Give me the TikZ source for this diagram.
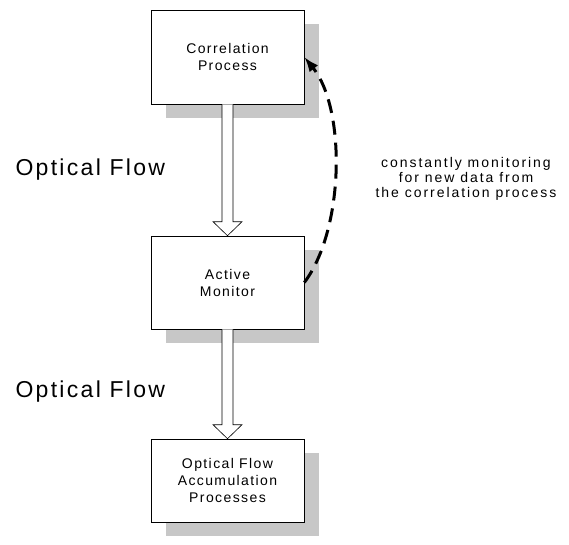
\documentclass[tikz,border=0pt]{standalone}
\usepackage{fontspec}
\setmainfont{Liberation Sans}
\newfontfamily\boxfont{Liberation Sans}[LetterSpace=10]
\newfontfamily\notefont{Liberation Sans}[LetterSpace=14]
\usetikzlibrary{calc, shadows, arrows.meta}

\tikzset{
	process/.style={draw, line width=0.6pt, fill=white, minimum width=153pt, align=center,
		font=\boxfont\fontsize{14}{17}\selectfont,
		drop shadow={shadow xshift=15pt, shadow yshift=-14pt, fill=black!22, opacity=1}},
	flow/.style={draw, line width=0.6pt, fill=white},
	flowlabel/.style={anchor=west, font=\boxfont\fontsize{23}{27}\selectfont},
	remark/.style={align=center, font=\notefont\fontsize{14}{15}\selectfont},
	monitor/.style={line width=3pt, dash pattern=on 14pt off 8pt, -{Latex[length=15pt,width=11pt]}},
}

\begin{document}
\begin{tikzpicture}[x=1pt, y=-1pt]
		\def\sh{5.5};
		\def\hw{14.5};
		\def\hl{14};
		\useasboundingbox (0,0) rectangle (569,544);

		\node[process, minimum height=94pt] (corr) at (227.5,57) {Correlation\\Process};
		\node[process, minimum height=93pt] (mon) at (227.5,282.5) {Active\\Monitor};
		\node[process, minimum height=83pt] (accum) at (227.5,480.5) {Optical Flow\\Accumulation\\Processes};

		% hollow arrows between the boxes
		\foreach \a/\b in {corr/mon, mon/accum}
			\draw[flow] ($(\a.south)+(-\sh,0)$) -- ($(\b.north)+(-\sh,-\hl)$) -- ++(-9,0) -- (\b.north)
				-- ($(\b.north)+(\hw,-\hl)$) -- ++(-9,0) -- ($(\a.south)+(\sh,0)$);

		\node[flowlabel] (flowa) at (12,170) {Optical Flow};
		\node[flowlabel] (flowb) at (12,392) {Optical Flow};

		\draw[monitor] (mon.east) .. controls +(40,-53) and +(42,52) .. (corr.east);
		\node[remark] (note) at (466,179) {constantly monitoring\\for new data from\\the correlation process};
	\end{tikzpicture}
\end{document}
